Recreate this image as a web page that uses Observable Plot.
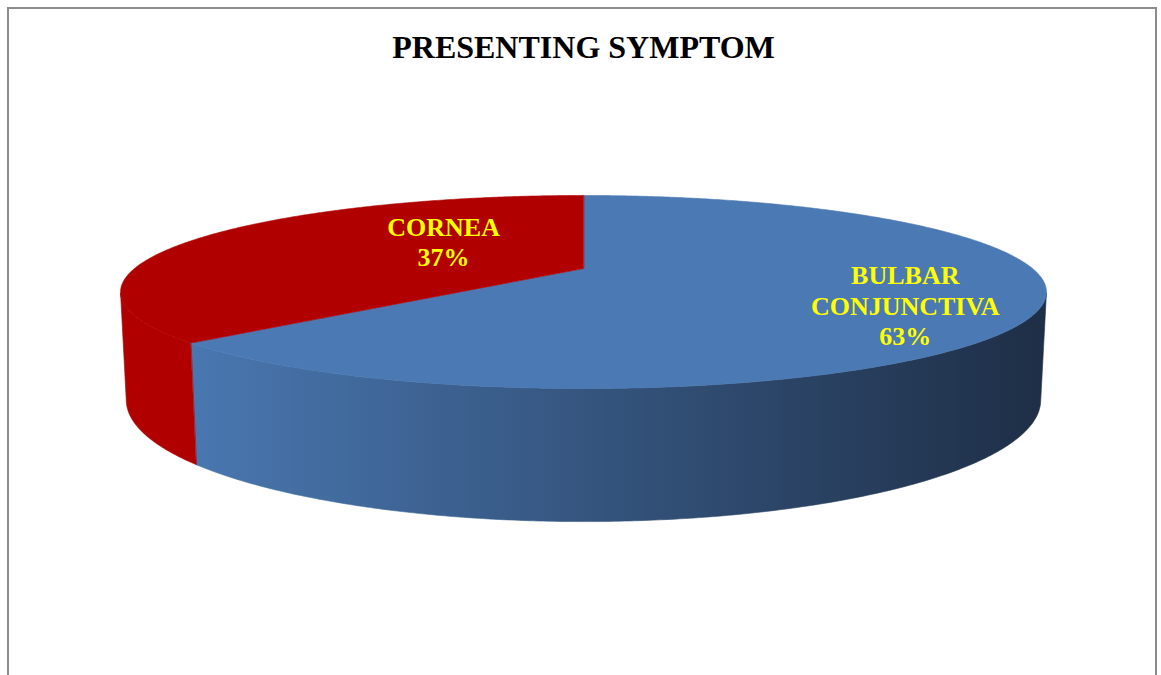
<!DOCTYPE html>
<html>
<head>
<meta charset="utf-8">
<script src="https://cdn.jsdelivr.net/npm/d3@7"></script>
<script src="https://cdn.jsdelivr.net/npm/@observablehq/plot@0.6"></script>
<style>
  html, body { margin: 0; padding: 0; background: #ffffff; }
  #chart { position: relative; width: 1161px; height: 675px; overflow: hidden; }
  #frame { position: absolute; left: 7px; top: 7px; width: 1146px; height: 720px;
           border: 2px solid #8c8c8c; box-sizing: content-box; }
  #title { position: absolute; left: 3px; width: 1161px; top: 31px; margin: 0;
           text-align: center; color: #000;
           font: bold 32px/32px "Liberation Serif", "Times New Roman", serif; }
  #plot { position: absolute; left: 0; top: 80px; }
  #plot svg { display: block; }
</style>
</head>
<body>
<div id="chart">
  <div id="frame"></div>
  <h1 id="title">PRESENTING SYMPTOM</h1>
  <div id="plot"></div>
</div>
<script>
// Data
const categories = ["BULBAR CONJUNCTIVA", "CORNEA"];
const shares = [63, 37];

// Styling
const sliceColors = ["#4a79b3", "#b00000"];
const labelColor = "#ffff00";

// Layout / 3-D view of the pie (unit radius disc seen from slightly above)
const W = 1161, H = 595;
const centerX = 583, centerY = 188;      // where the pie's centre lands in the svg
const tilt = 11.67 * Math.PI / 180;      // camera elevation
const sinT = Math.sin(tilt), cosT = Math.cos(tilt);
const eye = 4.02;                        // camera distance, in radii
const focal = 1805;                      // px per projected unit
const thickness = 0.2356;                // disc height, in radii
const labelRadius = [0.726, 0.351];
const labelLift = [8.5, -15.1];          // px, positive = downward

const deg = Math.PI / 180;
function project(X, Y, Z) {
  const depth = eye + Y * cosT - Z * sinT;
  return {x: X / depth, y: (Y * sinT + Z * cosT) / depth};
}

// Wall is visible where its outward normal faces the camera
const limb = Math.asin(1 / (eye * cosT)) / deg;

// Slices run clockwise from 12 o'clock
const total = d3.sum(shares);
let cursor = 90;
const slices = categories.map((name, i) => {
  const sweep = shares[i] / total * 360;
  const s = {name, share: shares[i], a0: cursor, a1: cursor - sweep};
  cursor -= sweep;
  return s;
});

function arc(from, to, Z) {
  const n = Math.max(2, Math.ceil(Math.abs(from - to) / 0.5));
  return d3.range(n + 1).map(k => {
    const a = (from + (to - from) * k / n) * deg;
    return project(Math.cos(a), Math.sin(a), Z);
  });
}

// Top faces: wedge from the centre along the rim
const topRows = slices.flatMap(s =>
  [project(0, 0, 0), ...arc(s.a0, s.a1, 0)].map(p => ({...p, name: s.name})));

// Outer walls: only the part of the rim turned toward the viewer
const sideRows = slices.flatMap(s => {
  const out = [];
  for (let k = -1; k <= 1; k++) {
    const lo = Math.max(s.a1, -180 + limb + 360 * k);
    const hi = Math.min(s.a0, -limb + 360 * k);
    if (lo < hi) {
      const key = s.name + k;
      [...arc(hi, lo, 0), ...arc(lo, hi, -thickness)]
        .forEach(p => out.push({...p, name: s.name, key}));
    }
  }
  return out;
});

const labelRows = slices.map((s, i) => {
  const m = (s.a0 + s.a1) / 2 * deg;
  const p = project(labelRadius[i] * Math.cos(m), labelRadius[i] * Math.sin(m), 0);
  return {
    x: p.x,
    y: p.y - labelLift[i] / focal,
    text: s.name.split(" ").join("\n") + "\n" + s.share + "%"
  };
});

// Horizontal shading of the lit wall
const shadeDefs = () => {
  const defs = d3.create("svg:defs");
  const g = defs.append("linearGradient").attr("id", "sideShade")
    .attr("x1", 0).attr("x2", 1).attr("y1", 0).attr("y2", 0);
  g.append("stop").attr("offset", "0%").attr("stop-color", "#4977b0");
  g.append("stop").attr("offset", "100%").attr("stop-color", "#1e2e46");
  return defs.node();
};

const chart = Plot.plot({
  width: W,
  height: H,
  margin: 0,
  x: {domain: [-centerX / focal, (W - centerX) / focal], range: [0, W], axis: null},
  y: {domain: [-(H - centerY) / focal, centerY / focal], range: [H, 0], axis: null},
  color: {domain: categories, range: sliceColors},
  style: {background: "transparent", overflow: "visible"},
  marks: [
    shadeDefs,
    Plot.line(sideRows.filter(d => d.name === categories[0]), {
      x: "x", y: "y", z: "key", curve: "linear-closed",
      fill: "url(#sideShade)", stroke: "url(#sideShade)", strokeWidth: 0.6
    }),
    Plot.line(sideRows.filter(d => d.name !== categories[0]), {
      x: "x", y: "y", z: "key", curve: "linear-closed",
      fill: sliceColors[1], stroke: sliceColors[1], strokeWidth: 0.6
    }),
    Plot.line(topRows, {
      x: "x", y: "y", z: "name", curve: "linear-closed",
      fill: "name", stroke: "name", strokeWidth: 0.6
    }),
    Plot.text(labelRows, {
      x: "x", y: "y", text: "text",
      fill: labelColor, fontSize: 26, fontWeight: "bold",
      fontFamily: "'Liberation Serif', 'Times New Roman', serif",
      lineHeight: 1.17, textAnchor: "middle", lineAnchor: "middle"
    })
  ]
});

document.getElementById("plot").appendChild(chart);
</script>
</body>
</html>
